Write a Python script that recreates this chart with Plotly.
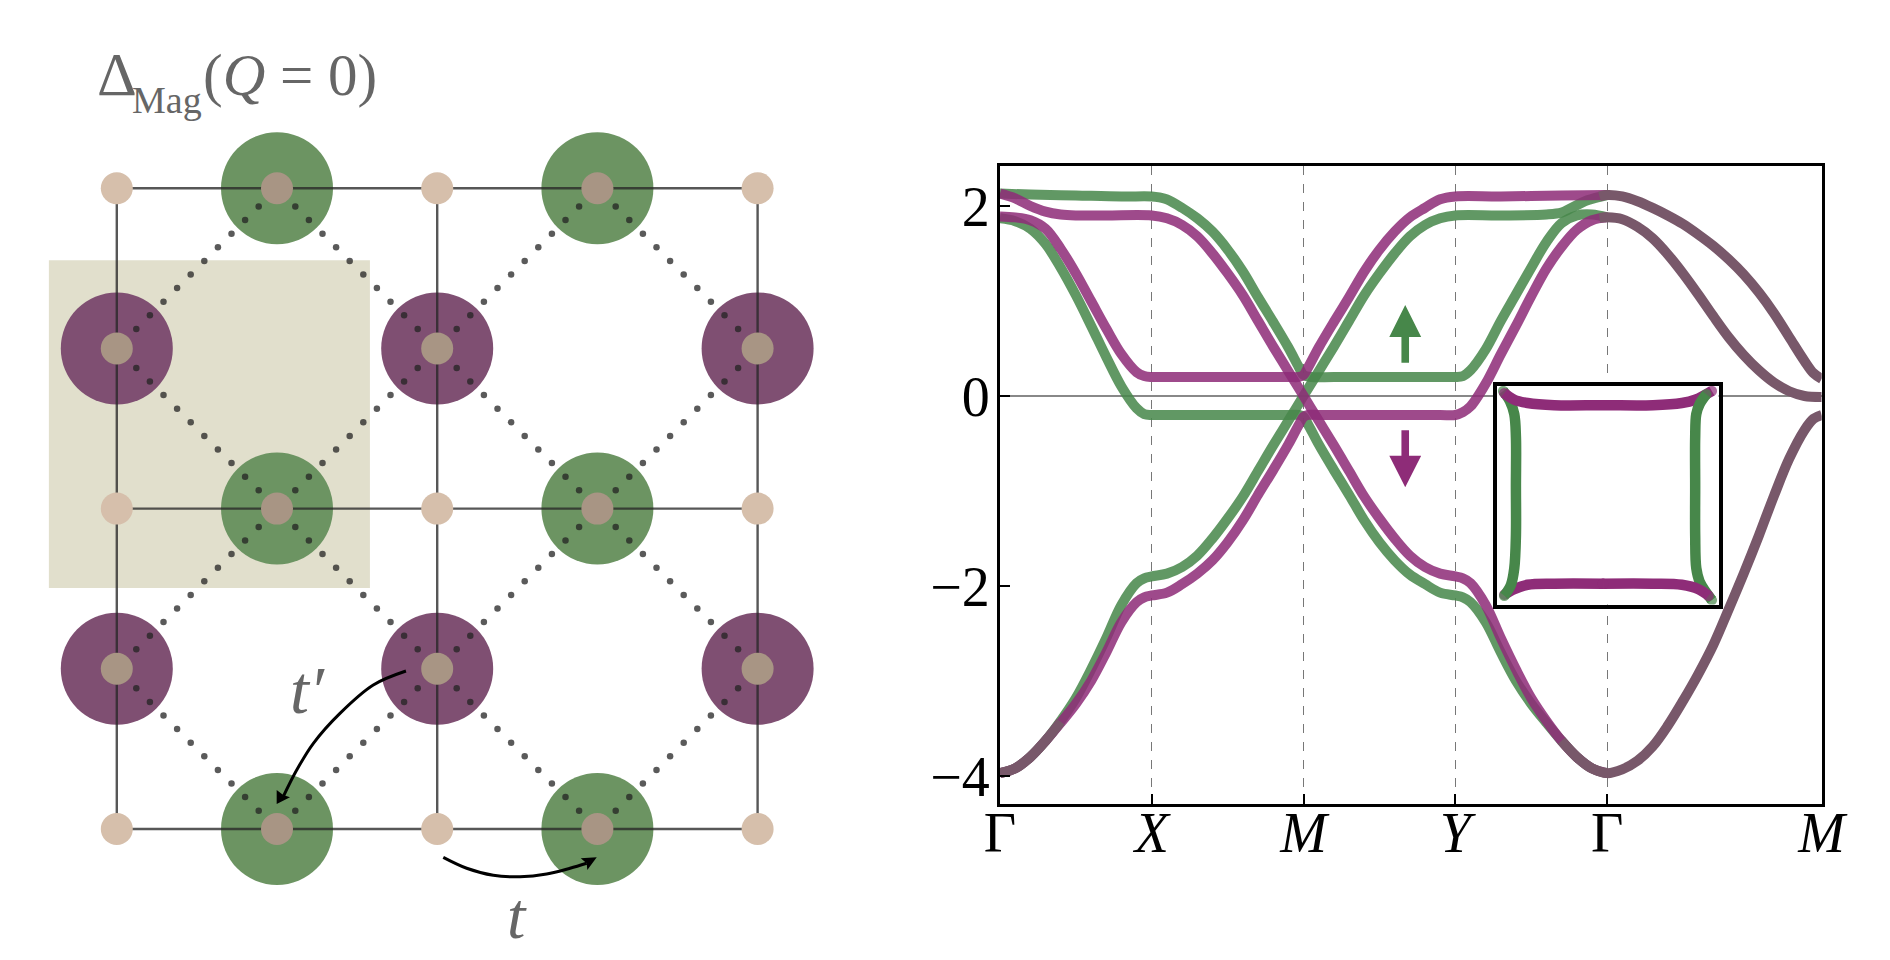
import plotly.graph_objects as go

W, H = 1890, 960
SERIF = "Liberation Serif"
GREEN, PURPLE = "#47874a", "#8e2c78"
GREEN_A, PURPLE_A = "rgba(71,135,74,0.86)", "rgba(142,44,120,0.86)"
BROWN = "#78586a"
GREY = "#666666"

# ---- band structure values (k along the path, energy) ----
tick_k = [0, 1, 2, 3, 4, 5.414]
tick_names = ["Γ", "<i>X</i>", "<i>M</i>", "<i>Y</i>", "Γ", "<i>M</i>"]
y_ticks = [2, 0, -2, -4]
y_names = ["2", "0", "−2", "−4"]

g1_k = [0, .2, .5, .8, 1, 1.05, 1.1, 1.2, 1.3, 1.4, 1.5, 1.6, 1.7, 1.8, 1.9, 1.97, 2.0, 2.05, 2.2, 2.6, 2.85, 2.95, 3.0, 3.05, 3.1, 3.2, 3.3, 3.4, 3.5, 3.6, 3.7, 3.8, 3.9, 4]
g1_e = [2.13, 2.12, 2.11, 2.10, 2.10, 2.09, 2.07, 1.98, 1.87, 1.73, 1.54, 1.31, 1.04, .78, .51, .30, .22, .2, .2, .2, .2, .2, .2, .21, .27, .49, .79, 1.07, 1.35, 1.62, 1.82, 1.90, 1.91, 1.88]
p1_k = [0, .1, .2, .3, .4, .5, .7, 1, 1.1, 1.2, 1.3, 1.4, 1.5, 1.6, 1.7, 1.8, 1.9, 2.0, 2.1, 2.2, 2.3, 2.4, 2.5, 2.6, 2.7, 2.8, 2.9, 3.0, 3.05, 3.1, 3.2, 3.3, 3.4, 3.5, 3.6, 3.7, 3.8, 3.9, 4]
p1_e = [2.13, 2.08, 2.0, 1.94, 1.91, 1.90, 1.90, 1.90, 1.87, 1.80, 1.68, 1.50, 1.29, 1.06, .79, .52, .26, 0, -.26, -.52, -.79, -1.06, -1.29, -1.50, -1.68, -1.80, -1.87, -1.90, -1.92, -1.97, -2.2, -2.55, -2.88, -3.18, -3.42, -3.63, -3.80, -3.92, -3.97]
g2_k = [0, .1, .2, .3, .4, .5, .6, .7, .8, .9, .95, 1, 1.1, 1.5, 1.9, 1.97, 2.0, 2.03, 2.1, 2.2, 2.3, 2.4, 2.5, 2.6, 2.7, 2.8, 2.9, 3.0, 3.05, 3.1, 3.2, 3.3, 3.4, 3.5, 3.6, 3.7, 3.8, 3.9, 4]
g2_e = [1.87, 1.84, 1.76, 1.60, 1.35, 1.06, .74, .41, .10, -.13, -.19, -.2, -.2, -.2, -.2, -.2, -.22, -.30, -.51, -.78, -1.04, -1.31, -1.54, -1.73, -1.88, -1.98, -2.07, -2.10, -2.12, -2.17, -2.38, -2.7, -3.0, -3.24, -3.44, -3.63, -3.80, -3.92, -3.97]
p2_k = [0, .1, .2, .3, .4, .5, .6, .7, .8, .9, .95, 1, 1.1, 1.5, 1.9, 1.97, 2.0, 2.03, 2.1, 2.2, 2.3, 2.4, 2.5, 2.6, 2.7, 2.8, 2.9, 3.0, 3.3, 3.7, 4]
p2_e = [1.89, 1.88, 1.85, 1.76, 1.55, 1.29, 1.0, .71, .44, .25, .21, .2, .2, .2, .2, .2, .22, .30, .51, .78, 1.04, 1.31, 1.54, 1.73, 1.88, 1.98, 2.07, 2.10, 2.10, 2.11, 2.115]
g3_k = [0, .1, .2, .3, .4, .5, .6, .7, .8, .9, .95, 1, 1.1, 1.2, 1.3, 1.4, 1.5, 1.6, 1.7, 1.8, 1.9, 2.0, 2.1, 2.2, 2.3, 2.4, 2.5, 2.6, 2.7, 2.8, 2.9, 3.0, 3.3, 3.6, 3.7, 3.76, 3.87, 4]
g3_e = [-3.97, -3.92, -3.80, -3.63, -3.42, -3.18, -2.88, -2.55, -2.2, -1.97, -1.92, -1.90, -1.87, -1.80, -1.68, -1.50, -1.29, -1.06, -.79, -.52, -.26, 0, .26, .52, .79, 1.06, 1.29, 1.50, 1.68, 1.80, 1.87, 1.90, 1.90, 1.91, 1.93, 1.975, 2.06, 2.115]
p3_k = [0, .1, .2, .3, .4, .5, .6, .7, .8, .9, .95, 1, 1.1, 1.2, 1.3, 1.4, 1.5, 1.6, 1.7, 1.8, 1.9, 1.97, 2.0, 2.03, 2.1, 2.5, 2.9, 3.0, 3.05, 3.1, 3.2, 3.3, 3.4, 3.5, 3.6, 3.7, 3.8, 3.9, 4]
p3_e = [-3.97, -3.92, -3.80, -3.63, -3.44, -3.24, -3.0, -2.7, -2.38, -2.17, -2.12, -2.10, -2.07, -1.98, -1.87, -1.73, -1.54, -1.31, -1.04, -.78, -.51, -.30, -.22, -.2, -.2, -.2, -.2, -.2, -.17, -.11, .13, .44, .74, 1.05, 1.34, 1.57, 1.75, 1.85, 1.88]
# bands that are spin-degenerate on the Γ–M line and near Γ
d1_k = [3.95, 4, 4.1, 4.2, 4.3, 4.4, 4.5, 4.6, 4.7, 4.8, 4.9, 5.0, 5.1, 5.2, 5.3, 5.36, 5.414]
d1_e = [2.10, 2.115, 2.10, 2.05, 1.98, 1.90, 1.81, 1.70, 1.58, 1.44, 1.28, 1.09, .87, .62, .37, .24, .18]
d2_k = [3.95, 4, 4.1, 4.2, 4.3, 4.4, 4.5, 4.6, 4.7, 4.8, 4.9, 5.0, 5.1, 5.2, 5.3, 5.414]
d2_e = [1.875, 1.88, 1.86, 1.78, 1.66, 1.49, 1.29, 1.07, .84, .62, .43, .27, .14, .05, .0, -.01]
d3_k = [3.7, 3.8, 3.9, 4, 4.1, 4.2, 4.3, 4.4, 4.5, 4.6, 4.7, 4.8, 4.9, 5.0, 5.1, 5.2, 5.3, 5.36, 5.414]
d3_e = [-3.63, -3.80, -3.92, -3.97, -3.93, -3.84, -3.69, -3.47, -3.21, -2.93, -2.62, -2.25, -1.87, -1.47, -1.05, -.66, -.36, -.24, -.2]
d4_k = [0, .1, .2, .3, .4]
d4_e = [-3.97, -3.92, -3.80, -3.63, -3.43]

# ---- inset (Fermi surface) values ----
fs_top_x = [-.93, -.84, -.72, -.48, -.04, .41, .67, .79, .94]
fs_top_y = [.93, .87, .84, .82, .82, .82, .84, .87, .95]
fs_botl_x = [-.93, -.84, -.72, -.48, -.04]
fs_botl_y = [-.91, -.86, -.82, -.81, -.81]
fs_botr_x = [-.04, .41, .67, .82, .91]
fs_botr_y = [-.81, -.81, -.82, -.86, -.92]
fs_left_x = [-.94, -.88, -.84, -.825, -.825, -.825, -.84, -.87, -.93]
fs_left_y = [.95, .86, .74, .53, .08, -.37, -.67, -.82, -.92]
fs_right_x = [.89, .83, .80, .79, .79, .79, .80, .83, .94]
fs_right_y = [.92, .83, .74, .53, .08, -.37, -.67, -.79, -.96]

# ---- spin arrows in band-plot coordinates ----
up_x = [2.645, 2.645, 2.565, 2.67, 2.775, 2.695, 2.695]
up_y = [.35, .62, .62, .958, .62, .62, .35]
down_x = [2.645, 2.645, 2.565, 2.67, 2.775, 2.695, 2.695]
down_y = [-.36, -.63, -.63, -.96, -.63, -.63, -.36]

# ---- lattice, in site units ----
cols_all = [0, 1, 2, 3, 4]
line_rows = [0, 2, 4]
line_cols = [0, 2, 4]
tan_x = [0, 2, 4, 0, 2, 4, 0, 2, 4]
tan_y = [4, 4, 4, 2, 2, 2, 0, 0, 0]
green_x = [1, 3, 1, 3, 1, 3]
green_y = [4, 4, 2, 2, 0, 0]
purple_x = [0, 2, 4, 0, 2, 4]
purple_y = [3, 3, 3, 1, 1, 1]
tp_x = [1.039, 1.123, 1.227, 1.393, 1.601, 1.805]
tp_y = [.202, .368, .535, .722, .899, .986]
tp_head_x = [.998, .998, 1.039, 1.081]
tp_head_y = [.156, .243, .212, .198]
t_x = [2.038, 2.184, 2.350, 2.517, 2.683, 2.829, 2.933]
t_y = [-.177, -.245, -.289, -.298, -.281, -.245, -.214]
t_head_x = [2.996, 2.896, 2.933, 2.937]
t_head_y = [-.177, -.183, -.214, -.256]
cell_x = [-.424, 1.58]
cell_y = [1.504, 3.55]

SITE = 160.2
X0, Y0 = 116.8, 829.0

fig = go.Figure()


def band(x, y, color, width=10, axes=("x", "y"), caps=False):
    sizes = [width if i in (0, len(x) - 1) else 0 for i in range(len(x))]
    fig.add_trace(go.Scatter(x=x, y=y, mode="lines+markers" if caps else "lines", xaxis=axes[0], yaxis=axes[1],
                             line=dict(color=color, width=width, shape="spline", smoothing=1.0),
                             marker=dict(color=color, size=sizes, line=dict(width=0)),
                             hoverinfo="skip", showlegend=False))


def filled(x, y, color, axes=("x", "y")):
    fig.add_trace(go.Scatter(x=x, y=y, mode="lines", fill="toself", fillcolor=color, xaxis=axes[0], yaxis=axes[1],
                             line=dict(color=color, width=0), hoverinfo="skip", showlegend=False))


def discs(x, y, color, size):
    fig.add_trace(go.Scatter(x=x, y=y, mode="markers", xaxis="x2", yaxis="y2",
                             marker=dict(color=color, size=size, line=dict(width=0)),
                             hoverinfo="skip", showlegend=False))


# band plot
for kk, ee in [(g1_k, g1_e), (g2_k, g2_e), (g3_k, g3_e)]:
    band(kk, ee, GREEN_A)
for kk, ee in [(p1_k, p1_e), (p2_k, p2_e), (p3_k, p3_e)]:
    band(kk, ee, PURPLE_A)
for kk, ee in [(d4_k, d4_e), (d3_k, d3_e), (d2_k, d2_e), (d1_k, d1_e)]:
    band(kk, ee, BROWN)
filled(up_x, up_y, GREEN)
filled(down_x, down_y, PURPLE)

# inset
ins = ("x3", "y3")
band(fs_botl_x, fs_botl_y, PURPLE, 10.5, ins, True)
band(fs_left_x, fs_left_y, GREEN, 10.5, ins, True)
band(fs_top_x, fs_top_y, PURPLE, 10.5, ins, True)
band(fs_right_x, fs_right_y, GREEN, 10.5, ins, True)
band(fs_botr_x, fs_botr_y, PURPLE, 10.5, ins, True)

# lattice
discs(green_x, green_y, "#6c9462", 112)
discs(purple_x, purple_y, "#7f4f72", 112)
lx, ly = [], []
for r in line_rows:
    lx += [cols_all[0], cols_all[-1], None]
    ly += [r, r, None]
for c in line_cols:
    lx += [c, c, None]
    ly += [cols_all[0], cols_all[-1], None]
fig.add_trace(go.Scatter(x=lx, y=ly, mode="lines", xaxis="x2", yaxis="y2", hoverinfo="skip", showlegend=False,
                         line=dict(color="rgba(40,40,40,0.78)", width=2.4)))
dx, dy = [], []
for px_, py_ in zip(purple_x, purple_y):
    for gx_, gy_ in zip(green_x, green_y):
        if abs(px_ - gx_) == 1 and abs(py_ - gy_) == 1:
            for n in range(10):
                f = (19.5 + 13.6 * n) / SITE
                dx.append(px_ + (gx_ - px_) * f)
                dy.append(py_ + (gy_ - py_) * f)
discs(dx, dy, "rgba(35,35,35,0.75)", 6.5)
discs(tan_x, tan_y, "#d6bfab", 32)
discs(green_x + purple_x, green_y + purple_y, "#a89584", 32)
for ax, ay in [(tp_x, tp_y), (t_x, t_y)]:
    fig.add_trace(go.Scatter(x=ax, y=ay, mode="lines", xaxis="x2", yaxis="y2", hoverinfo="skip", showlegend=False,
                             line=dict(color="black", width=3, shape="spline")))
filled(tp_head_x, tp_head_y, "black", ("x2", "y2"))
filled(t_head_x, t_head_y, "black", ("x2", "y2"))


def text(px, py, s, size, color=GREY, anchor="left"):
    return dict(x=px / W, y=1 - py / H, xref="paper", yref="paper", text=s, showarrow=False, xanchor=anchor,
                yanchor="middle", font=dict(family=SERIF, size=size, color=color))


annotations = [
    text(95, 74, "Δ", 62),
    text(130, 100, "Mag", 38),
    text(201, 75, "(<i>Q</i> = 0)", 59),
    text(288, 690, "<i>t′</i>", 68),
    text(505, 915, "<i>t</i>", 66),
]

fig.update_layout(
    width=W, height=H, margin=dict(l=0, r=0, t=0, b=0), paper_bgcolor="white", plot_bgcolor="white",
    showlegend=False, annotations=annotations,
    shapes=[dict(type="rect", xref="x2", yref="y2", x0=cell_x[0], x1=cell_x[1], y0=cell_y[0], y1=cell_y[1],
                 fillcolor="#e1dfcc", line=dict(width=0), layer="below")],
    xaxis=dict(domain=[1000 / W, 1821.7 / W], range=[0, 5.414], anchor="y", automargin=False, tickmode="array", tickvals=tick_k, ticktext=tick_names,
               ticks="inside", ticklen=10, tickwidth=2, tickcolor="black", showline=True, mirror=True, linecolor="black",
               linewidth=3, showgrid=True, gridcolor="#777777", gridwidth=1, griddash="dash", zeroline=False,
               ticklabelstandoff=-22, tickfont=dict(family=SERIF, size=56, color="black")),
    yaxis=dict(domain=[1 - 804 / H, 1 - 165.5 / H], range=[-4.295, 2.426], anchor="x", automargin=False, tickmode="array", tickvals=y_ticks, ticktext=y_names,
               ticks="inside", ticklen=10, tickwidth=2, tickcolor="black", showline=True, mirror=True, linecolor="black",
               linewidth=3, showgrid=False, zeroline=True, zerolinecolor="#888888", zerolinewidth=1.5,
               ticklabelstandoff=-4, tickfont=dict(family=SERIF, size=56, color="black")),
    xaxis2=dict(domain=[0, 0.5], range=[-X0 / SITE, (945 - X0) / SITE], anchor="y2", automargin=False, visible=False),
    yaxis2=dict(domain=[0, 1], range=[-(H - Y0) / SITE, Y0 / SITE], anchor="x2", automargin=False, visible=False),
    xaxis3=dict(domain=[1496.5 / W, 1718.5 / W], range=[-1, 1], anchor="y3", automargin=False, showticklabels=False, ticks="", showgrid=False, zeroline=False,
                showline=True, mirror=True, linecolor="black", linewidth=4),
    yaxis3=dict(domain=[1 - 604.5 / H, 1 - 385.5 / H], range=[-1, 1], anchor="x3", automargin=False, showticklabels=False, ticks="", showgrid=False, zeroline=False,
                showline=True, mirror=True, linecolor="black", linewidth=4),
)

fig.write_html("out.html", config=dict(displayModeBar=False),
               post_script="document.body.style.margin='0';document.documentElement.style.overflow='hidden';")
